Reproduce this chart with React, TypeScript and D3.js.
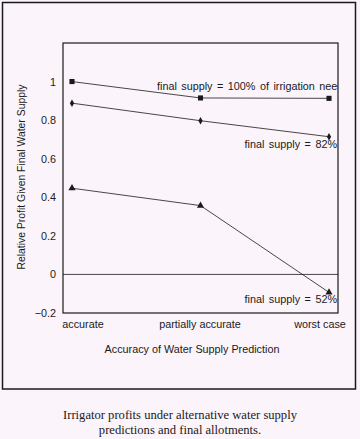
import React from "react";
import * as d3 from "d3";

const categories = ["accurate", "partially accurate", "worst case"];
const supply100 = [1.0, 0.915, 0.913];
const supply82 = [0.888, 0.797, 0.714];
const supply52 = [0.447, 0.357, -0.093];
const yTicks = [-0.2, 0, 0.2, 0.4, 0.6, 0.8, 1];
const labels = ["final supply = 100% of irrigation need", "final supply = 82%", "final supply = 52%"];

const W = 360, H = 439;
const box = { left: 63, right: 338, top: 43, bottom: 313 };

export default function App() {
  const x = d3.scaleLinear().domain([-0.07, 2.07]).range([box.left, box.right]);
  const y = d3.scaleLinear().domain([-0.2, 1.2]).range([box.bottom, box.top]);
  const line = d3.line<number>().x((_, i) => x(i)).y((d) => y(d));
  const ink = "#1a1a1a";
  const font = "Liberation Sans, Arial, sans-serif";
  const serif = "Liberation Serif, Times New Roman, serif";
  const sq = d3.symbol().type(d3.symbolSquare).size(26)()!;
  const dia = d3.symbol().type(d3.symbolDiamond).size(16)()!;
  const tri = d3.symbol().type(d3.symbolTriangle).size(22)()!;
  const tickAnchorX = [83, 200, 320];
  return (
    <svg width={W} height={H} style={{ position: "absolute", left: 0, top: 0, background: "#fbf4fa" }}>
      <rect x={0} y={0} width={W} height={H} fill="#fbf4fa" />
      <rect x={2.5} y={2.5} width={353} height={386.5} fill="none" stroke={ink} strokeWidth={1.5} />
      <defs>
        <clipPath id="pc">
          <rect x={box.left} y={box.top} width={box.right - box.left} height={box.bottom - box.top} />
        </clipPath>
      </defs>
      <rect x={box.left} y={box.top} width={box.right - box.left} height={box.bottom - box.top} fill="none" stroke={ink} strokeWidth={1.2} />
      <line x1={box.left} x2={box.right} y1={y(0)} y2={y(0)} stroke={ink} strokeWidth={0.8} />
      {yTicks.map((t) => (
        <text key={t} x={56} y={y(t) + 4} textAnchor="end" fontFamily={font} fontSize={10.8} fill={ink}>
          {t < 0 ? "\u2212" + Math.abs(t) : String(t)}
        </text>
      ))}
      {categories.map((c, i) => (
        <text key={c} x={tickAnchorX[i]} y={328} textAnchor="middle" fontFamily={font} fontSize={10.8} fill={ink}>
          {c}
        </text>
      ))}
      <text x={192} y={353} textAnchor="middle" fontFamily={font} fontSize={10.8} fill={ink}>
        Accuracy of Water Supply Prediction
      </text>
      <text transform={`translate(25,177) rotate(-90)`} textAnchor="middle" fontFamily={font} fontSize={10.4} fill={ink}>
        Relative Profit Given Final Water Supply
      </text>
      <g clipPath="url(#pc)">
        {[supply100, supply82, supply52].map((s, k) => (
          <path key={k} d={line(s)!} fill="none" stroke={ink} strokeWidth={0.8} />
        ))}
        {supply100.map((v, i) => (
          <path key={"s" + i} d={sq} transform={`translate(${x(i)},${y(v)})`} fill={ink} />
        ))}
        {supply82.map((v, i) => (
          <path key={"d" + i} d={dia} transform={`translate(${x(i)},${y(v)})`} fill={ink} />
        ))}
        {supply52.map((v, i) => (
          <path key={"t" + i} d={tri} transform={`translate(${x(i)},${y(v)})`} fill={ink} />
        ))}
        <text x={157} y={90} fontFamily={font} fontSize={10.8} wordSpacing={1.5} fill={ink}>{labels[0]}</text>
        <text x={337} y={148} textAnchor="end" fontFamily={font} fontSize={10.8} wordSpacing={1.5} fill={ink}>{labels[1]}</text>
        <text x={337} y={303} textAnchor="end" fontFamily={font} fontSize={10.8} wordSpacing={1.5} fill={ink}>{labels[2]}</text>
      </g>
      <text x={180} y={419} textAnchor="middle" fontFamily={serif} fontSize={12.6} fill={ink}>
        Irrigator profits under alternative water supply
      </text>
      <text x={180} y={434} textAnchor="middle" fontFamily={serif} fontSize={12.6} fill={ink}>
        predictions and final allotments.
      </text>
    </svg>
  );
}
